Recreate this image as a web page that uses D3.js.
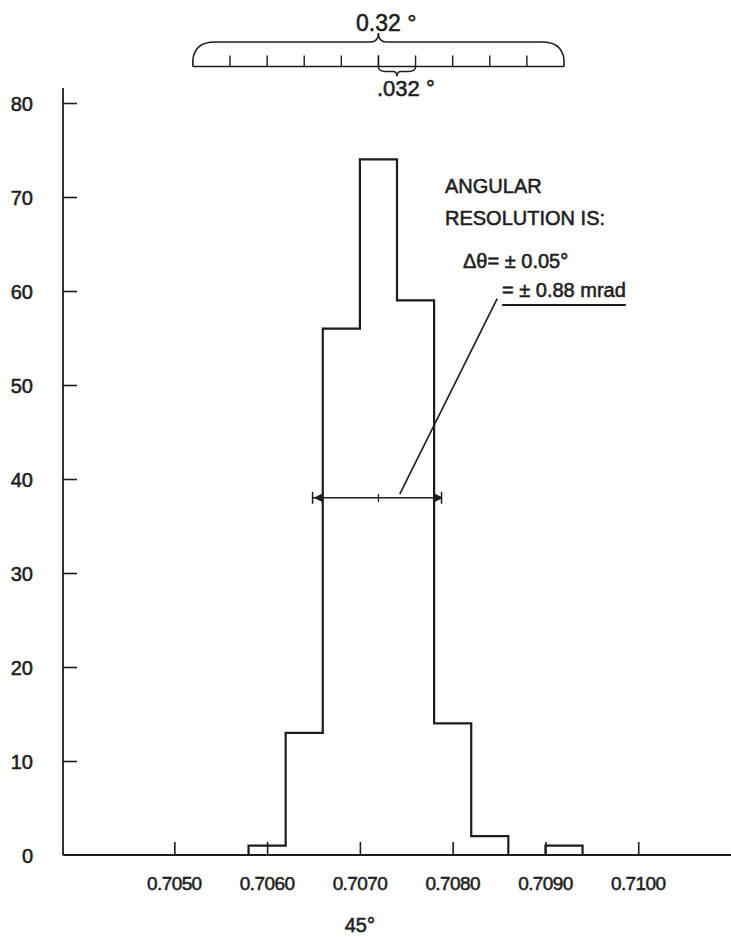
<!DOCTYPE html>
<html>
<head>
<meta charset="utf-8">
<script src="https://cdn.jsdelivr.net/npm/d3@7"></script>
<style>
  html, body { margin: 0; padding: 0; background: #fff; }
  svg { display: block; }
  text { font-family: "Liberation Sans", Arial, sans-serif; fill: #1e1e1e; stroke: #1e1e1e; stroke-width: 0.55px; }
</style>
</head>
<body>
<svg id="chart" width="731" height="937"></svg>
<script>
// ---- data ----
const binEdges = [0.7058, 0.7062, 0.7066, 0.7070, 0.7074, 0.7078, 0.7082, 0.7086, 0.7090, 0.7094];
const binCounts = [1, 13, 56, 74, 59, 14, 2, 0, 1];
const xTickValues = [0.7050, 0.7060, 0.7070, 0.7080, 0.7090, 0.7100];
const xTickLabels = ["0.7050", "0.7060", "0.7070", "0.7080", "0.7090", "0.7100"];
const yTickValues = [0, 10, 20, 30, 40, 50, 60, 70, 80];
const xTitle = "45°";
// angular ruler at top (0.032° per 0.0004)
const rulerTicks = [0.7052, 0.7056, 0.7060, 0.7064, 0.7068, 0.7072, 0.7076, 0.7080, 0.7084, 0.7088, 0.7092];
const rulerLabel = "0.32 °";
const rulerSubLabel = ".032 °";
const subBrace = [0.7072, 0.7076];
// FWHM resolution bar
const fwhmLevel = 38;
const fwhmRange = [0.70649, 0.70788];
const fwhmCenter = 0.7072;
const fwhmArrows = [0.7066, 0.7078];
const leader = [[0.70743, 38.4], [0.70848, 59.2]];
const noteLines = ["ANGULAR", "RESOLUTION IS:", "Δθ= ± 0.05°", "= ± 0.88 mrad"];

// ---- scales ----
const svg = d3.select("#chart");
const x = d3.scaleLinear().domain([0.7038, 0.7110]).range([63, 731]);
const y = d3.scaleLinear().domain([0, 80]).range([855, 103]);
const ink = "#1c1c1c";

// ---- axes ----
const yAxisG = svg.append("g").attr("transform", `translate(${x(0.7038)},0)`)
  .call(d3.axisRight(y).tickValues(yTickValues.filter(d => d > 0)).tickSize(14).tickFormat(""));
yAxisG.select(".domain").remove();
yAxisG.selectAll("line").attr("stroke", ink).attr("stroke-width", 1.6);
svg.append("line").attr("x1", x(0.7038)).attr("x2", x(0.7038))
  .attr("y1", y(81.6)).attr("y2", y(0)).attr("stroke", ink).attr("stroke-width", 1.8);

const xAxisG = svg.append("g").attr("transform", `translate(0,${y(0)})`)
  .call(d3.axisTop(x).tickValues(xTickValues).tickSize(13).tickFormat(""));
xAxisG.select(".domain").remove();
xAxisG.selectAll("line").attr("stroke", ink).attr("stroke-width", 1.6);
svg.append("line").attr("x1", x(0.7038)).attr("x2", x(0.7110))
  .attr("y1", y(0)).attr("y2", y(0)).attr("stroke", ink).attr("stroke-width", 1.8);

svg.append("g").selectAll("text").data(yTickValues).join("text")
  .attr("x", 33).attr("y", d => y(d) + 7.5)
  .attr("text-anchor", "end").attr("font-size", 20).text(d => d);

svg.append("g").selectAll("text").data(xTickValues).join("text")
  .attr("x", d => x(d)).attr("y", 890)
  .attr("text-anchor", "middle").attr("font-size", 19).attr("letter-spacing", -0.6)
  .text((d, i) => xTickLabels[i]);

svg.append("text").attr("x", x(0.7070)).attr("y", 932)
  .attr("text-anchor", "middle").attr("font-size", 20).text(xTitle);

// ---- histogram outline (contiguous runs) ----
const runs = [];
let cur = null;
binCounts.forEach((c, i) => {
  if (c > 0) { if (!cur) { cur = []; runs.push(cur); } cur.push(i); }
  else cur = null;
});
runs.forEach(run => {
  const p = d3.path();
  const first = run[0], last = run[run.length - 1];
  p.moveTo(x(binEdges[first]), y(0));
  run.forEach(i => {
    p.lineTo(x(binEdges[i]), y(binCounts[i]));
    p.lineTo(x(binEdges[i + 1]), y(binCounts[i]));
  });
  p.lineTo(x(binEdges[last + 1]), y(0));
  svg.append("path").attr("d", p.toString()).attr("fill", "none")
    .attr("stroke", ink).attr("stroke-width", 2.2).attr("stroke-linejoin", "miter");
});

// ---- FWHM bar ----
const fy = y(fwhmLevel);
svg.append("line").attr("x1", x(fwhmRange[0])).attr("x2", x(fwhmRange[1]))
  .attr("y1", fy).attr("y2", fy).attr("stroke", ink).attr("stroke-width", 1.5);
fwhmRange.forEach(v => svg.append("line").attr("x1", x(v)).attr("x2", x(v))
  .attr("y1", fy - 6).attr("y2", fy + 6).attr("stroke", ink).attr("stroke-width", 1.5));
svg.append("line").attr("x1", x(fwhmCenter)).attr("x2", x(fwhmCenter))
  .attr("y1", fy - 4).attr("y2", fy + 4).attr("stroke", ink).attr("stroke-width", 1.3);
fwhmArrows.forEach((v, i) => {
  const xv = x(v), dir = i === 0 ? -1 : 1;
  svg.append("path").attr("d", `M${xv + dir * 1},${fy - 3.5} L${xv + dir * 8},${fy} L${xv + dir * 1},${fy + 3.5} Z`)
    .attr("fill", ink).attr("stroke", ink).attr("stroke-width", 1);
});
svg.append("line").attr("x1", x(leader[0][0])).attr("y1", y(leader[0][1]))
  .attr("x2", x(leader[1][0])).attr("y2", y(leader[1][1]))
  .attr("stroke", ink).attr("stroke-width", 1.6);

// ---- annotation ----
svg.append("text").attr("x", 445).attr("y", 193).attr("font-size", 20).text(noteLines[0]);
svg.append("text").attr("x", 445).attr("y", 225).attr("font-size", 20).text(noteLines[1]);
svg.append("text").attr("x", 463).attr("y", 268).attr("font-size", 20).text(noteLines[2]);
const t4 = svg.append("text").attr("x", 502).attr("y", 297).attr("font-size", 20).text(noteLines[3]);
const bb = t4.node().getBBox();
svg.append("line").attr("x1", bb.x).attr("x2", bb.x + bb.width)
  .attr("y1", 305).attr("y2", 305).attr("stroke", ink).attr("stroke-width", 2);

// ---- top angular ruler ----
const rb = 66.5, rt = 42;
const r0 = x(rulerTicks[0]), r1 = x(rulerTicks[rulerTicks.length - 1]);
const rm = x(rulerTicks[5]);
svg.append("line").attr("x1", r0).attr("x2", r1).attr("y1", rb).attr("y2", rb)
  .attr("stroke", ink).attr("stroke-width", 1.5);
svg.append("g").selectAll("line").data(rulerTicks.slice(1, -1)).join("line")
  .attr("x1", d => x(d)).attr("x2", d => x(d)).attr("y1", rb).attr("y2", rb - 11)
  .attr("stroke", ink).attr("stroke-width", 1.4);
const bp = d3.path();
bp.moveTo(r0, rb);
bp.lineTo(r0, rb - 7);
bp.quadraticCurveTo(r0 + 2, rt, r0 + 22, rt);
bp.lineTo(rm - 8, rt);
bp.quadraticCurveTo(rm, rt, rm, rt - 9);
bp.quadraticCurveTo(rm, rt, rm + 8, rt);
bp.lineTo(r1 - 22, rt);
bp.quadraticCurveTo(r1 - 2, rt, r1, rb - 7);
bp.lineTo(r1, rb);
svg.append("path").attr("d", bp.toString()).attr("fill", "none")
  .attr("stroke", ink).attr("stroke-width", 1.6);
// small brace below
const s0 = x(subBrace[0]), s1 = x(subBrace[1]), sm = (s0 + s1) / 2;
const sp = d3.path();
sp.moveTo(s0, rb);
sp.quadraticCurveTo(s0, rb + 5, s0 + 7, rb + 5);
sp.lineTo(sm - 4, rb + 5);
sp.quadraticCurveTo(sm, rb + 5, sm, rb + 10);
sp.quadraticCurveTo(sm, rb + 5, sm + 4, rb + 5);
sp.lineTo(s1 - 7, rb + 5);
sp.quadraticCurveTo(s1, rb + 5, s1, rb);
svg.append("path").attr("d", sp.toString()).attr("fill", "none")
  .attr("stroke", ink).attr("stroke-width", 1.4);
svg.append("line").attr("x1", s0).attr("x2", s0).attr("y1", rb - 11).attr("y2", rb)
  .attr("stroke", ink).attr("stroke-width", 1.4);

svg.append("text").attr("x", 356).attr("y", 31).attr("font-size", 23).text(rulerLabel);
svg.append("text").attr("x", 377).attr("y", 96).attr("font-size", 22).text(rulerSubLabel);
</script>
</body>
</html>
